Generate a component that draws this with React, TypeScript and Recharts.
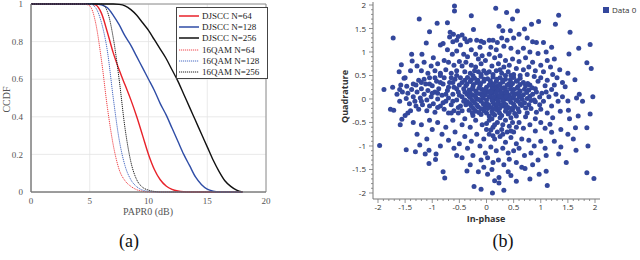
import React from "react";
import { LineChart, Line, XAxis, YAxis, CartesianGrid, ReferenceArea, ScatterChart, Scatter } from "recharts";

// ---- (a) CCDF of PAPR ----
const papr = [0, 4, 4.5, 5, 5.5, 6, 6.5, 7, 7.5, 8, 8.5, 9, 9.5, 10, 10.5, 11, 11.5, 12, 12.5, 13, 13.5, 14, 14.5, 15, 15.5, 16, 16.5, 17, 17.5, 18];
const djscc64 = [1, 1, 1, 1, 0.995, 0.95, 0.85, 0.74, 0.65, 0.57, 0.49, 0.4, 0.3, 0.2, 0.12, 0.065, 0.032, 0.014, 0.005, 0.001, 0, 0, 0, 0, 0, 0, 0, 0, 0, 0];
const djscc128 = [1, 1, 1, 1, 1, 0.995, 0.98, 0.94, 0.89, 0.83, 0.78, 0.72, 0.66, 0.6, 0.54, 0.47, 0.41, 0.34, 0.27, 0.2, 0.14, 0.08, 0.04, 0.015, 0.004, 0, 0, 0, 0, 0];
const djscc256 = [1, 1, 1, 1, 1, 1, 1, 1, 0.998, 0.99, 0.97, 0.94, 0.9, 0.86, 0.81, 0.76, 0.71, 0.65, 0.59, 0.52, 0.45, 0.38, 0.31, 0.24, 0.17, 0.11, 0.06, 0.03, 0.01, 0];
const qam64 = [1, 1, 1, 0.99, 0.9, 0.7, 0.45, 0.25, 0.12, 0.06, 0.03, 0.012, 0.004, 0, 0, 0, 0, 0, 0, 0, 0, 0, 0, 0, 0, 0, 0, 0, 0, 0];
const qam128 = [1, 1, 1, 1, 0.98, 0.9, 0.75, 0.5, 0.28, 0.14, 0.065, 0.028, 0.01, 0.003, 0, 0, 0, 0, 0, 0, 0, 0, 0, 0, 0, 0, 0, 0, 0, 0];
const qam256 = [1, 1, 1, 1, 1, 1, 0.96, 0.82, 0.6, 0.34, 0.16, 0.065, 0.025, 0.01, 0.003, 0, 0, 0, 0, 0, 0, 0, 0, 0, 0, 0, 0, 0, 0, 0];
const paprTicks = [0, 5, 10, 15, 20];
const ccdfTicks = [0, 0.2, 0.4, 0.6, 0.8, 1];

const ccdfData = papr.map((x, i) => ({
  x,
  djscc64: djscc64[i],
  djscc128: djscc128[i],
  djscc256: djscc256[i],
  qam64: qam64[i],
  qam128: qam128[i],
  qam256: qam256[i],
}));

const seriesDefs = [
  { key: "djscc64", name: "DJSCC N=64", color: "#e8222a", dotted: false },
  { key: "djscc128", name: "DJSCC N=128", color: "#2f4da6", dotted: false },
  { key: "djscc256", name: "DJSCC N=256", color: "#111111", dotted: false },
  { key: "qam64", name: "16QAM N=64", color: "#f0474c", dotted: true },
  { key: "qam128", name: "16QAM N=128", color: "#4a6cc4", dotted: true },
  { key: "qam256", name: "16QAM N=256", color: "#222222", dotted: true },
];

// ---- (b) constellation ----
const iqMajorTicks = [-2, -1.5, -1, -0.5, 0, 0.5, 1, 1.5, 2];

const iqUpperLeft: [number, number][] = [
  [-1.72, 1.3], [-1.24, 1.7], [-0.91, 1.61], [-0.72, 1.62], [-0.59, 1.98], [-0.59, 1.87], [-0.28, 1.77], [-0.24, 1.48],
  [-1.05, 1.43], [-1.11, 1.19], [-0.8, 1.18], [-1.38, 0.95], [-1.37, 0.81], [-1.19, 0.95], [-1.57, 0.73], [-1.61, 0.58],
  [-0.67, 1.42], [-0.61, 1.38], [-0.68, 1.32], [-0.52, 1.33], [-0.45, 1.36], [-0.4, 1.28], [-0.55, 1.25], [-0.62, 1.22],
  [-0.36, 1.22], [-0.3, 1.25], [-0.18, 1.25], [-0.1, 1.23], [-0.48, 1.15], [-0.72, 1.05], [-0.85, 1.15], [-0.63, 0.95],
  [-0.55, 1.02], [-0.42, 0.95], [-0.35, 0.9], [-0.28, 1.05], [-0.2, 0.95], [-0.12, 1.1], [-0.05, 1.2], [-0.08, 0.92],
  [-0.15, 0.85], [-0.98, 0.88], [-0.9, 0.75], [-1.02, 0.7], [-1.15, 0.78], [-1.28, 0.7], [-0.78, 0.82], [-0.7, 0.78],
  [-0.6, 0.72], [-0.5, 0.8], [-0.45, 0.7], [-0.38, 0.78], [-0.28, 0.72], [-0.2, 0.68], [-0.1, 0.75], [-0.02, 0.82],
  [-1.4, 0.6], [-1.2, 0.6], [-1.08, 0.55], [-0.95, 0.6], [-0.85, 0.55], [-0.75, 0.62], [-0.65, 0.55], [-0.55, 0.6],
  [-0.4, 0.58], [-0.3, 0.55], [-0.15, 0.58], [-0.05, 0.6], [-1.5, 0.45], [-1.58, 0.3],
];

const iqUpperRight: [number, number][] = [
  [0.17, 1.93], [0.37, 1.84], [0.57, 1.87], [0.48, 1.7], [0.23, 1.55], [0.3, 1.45], [0.44, 1.45], [0.7, 1.49],
  [0.83, 1.59], [0.96, 1.65], [1.27, 1.59], [1.33, 1.78], [1.54, 1.42], [1.7, 1.08], [1.91, 1.16], [1.52, 0.96],
  [1.85, 0.77], [1.93, 0.65], [0.05, 1.25], [0.12, 1.25], [0.2, 1.2], [0.28, 1.3], [0.38, 1.25], [0.5, 1.3],
  [0.6, 1.38], [0.75, 1.3], [0.85, 1.22], [0.92, 1.2], [1.05, 1.2], [0.08, 1.1], [0.18, 1.05], [0.32, 1.12],
  [0.45, 1.08], [0.58, 1.0], [0.68, 1.08], [0.8, 1.0], [0.95, 0.97], [1.1, 1.0], [1.2, 1.1], [1.25, 0.85],
  [1.12, 0.82], [1.35, 0.62], [1.3, 0.45], [1.5, 0.55], [0.05, 0.95], [0.15, 0.88], [0.25, 0.92], [0.35, 0.82],
  [0.48, 0.85], [0.6, 0.8], [0.72, 0.88], [0.85, 0.78], [1.0, 0.72], [1.18, 0.68], [0.1, 0.7], [0.22, 0.75],
  [0.32, 0.68], [0.42, 0.72], [0.55, 0.65], [0.68, 0.62], [0.78, 0.68], [0.9, 0.6], [1.05, 0.58], [1.22, 0.52],
  [0.05, 0.58], [0.18, 0.6], [0.28, 0.55], [0.4, 0.58], [0.5, 0.52], [0.62, 0.5], [0.75, 0.52], [0.88, 0.48],
  [1.0, 0.45], [1.12, 0.4], [1.45, 0.26], [1.63, 0.41], [1.4, 0.35], [1.25, 0.3],
];

const iqBand: [number, number][] = [
  [-1.89, 0.2], [-1.73, 0.25], [-1.65, 0.1], [-1.77, -0.22], [-1.71, -0.24], [-1.6, -0.05], [-1.55, 0.15], [-1.48, 0.01],
  [-1.47, 0.27], [-1.52, 0.44], [-1.45, 0.12], [-1.42, -0.1], [-1.38, 0.2], [-1.35, 0.05], [-1.3, 0.3], [-1.32, -0.05],
  [-1.28, 0.15], [-1.25, 0.4], [-1.22, 0.02], [-1.2, 0.22], [-1.18, -0.12], [-1.15, 0.1], [-1.12, 0.32], [-1.1, -0.02],
  [-1.08, 0.18], [-1.05, 0.45], [-1.02, 0.05], [-1.0, 0.28], [-0.98, -0.1], [-0.95, 0.15], [-0.92, 0.38], [-0.9, 0.0],
  [-0.88, 0.22], [-0.85, -0.15], [-0.82, 0.08], [-0.8, 0.32], [-0.78, 0.45], [-0.75, -0.05], [-0.72, 0.18], [-0.7, 0.02],
  [-0.68, 0.35], [-0.65, -0.12], [-0.62, 0.1], [-0.6, 0.25], [-0.58, 0.42], [-0.55, -0.02], [-0.52, 0.15], [-0.5, 0.3],
  [-0.48, -0.15], [-0.45, 0.05], [-0.42, 0.22], [-0.4, 0.4], [-1.45, -0.3], [-1.5, -0.35], [-1.4, -0.25], [-1.25, -0.22],
  [-1.1, -0.25], [-0.95, -0.28], [-0.78, -0.22], [-0.7, -0.3], [-0.6, -0.25], [-0.52, -0.3],
  [-1.35, 0.32], [-1.2, 0.35], [-1.05, 0.32], [-0.9, 0.12], [-0.85, 0.35], [-0.75, 0.1], [-0.7, 0.25], [-0.62, 0.35],
  [-0.55, 0.22], [-0.5, 0.08], [-0.45, 0.35], [-0.42, -0.05], [-1.0, 0.12], [-1.15, 0.42], [-0.95, 0.45], [-0.65, 0.45],
  [-0.55, 0.5], [-0.48, 0.45], [-1.2, -0.05], [-1.05, -0.15], [-0.9, -0.18], [-0.8, -0.08], [-0.62, -0.05], [-0.52, -0.18],
  [-0.45, -0.25], [-0.38, -0.12], [-0.4, 0.15], [-0.85, 0.5], [-1.3, -0.15], [-1.6, 0.2],
  [0.8, 0.3], [0.9, 0.22], [0.95, 0.38], [1.02, 0.12], [1.08, 0.28], [1.15, 0.05], [1.2, 0.2], [0.88, -0.02],
  [0.98, -0.12], [1.05, -0.05], [1.1, 0.15], [1.28, 0.1], [1.32, -0.05], [1.36, -0.26], [1.5, -0.04], [1.51, -0.24],
  [1.53, -0.42], [1.66, 0.02], [1.71, 0.1], [1.77, -0.05], [1.69, -0.36], [1.64, -0.61], [1.96, 0.05], [1.91, -0.32],
  [1.85, -0.61], [0.82, -0.2], [0.92, -0.28], [1.0, -0.22], [1.12, -0.3], [1.2, -0.15], [0.75, -0.3], [1.4, 0.05],
  [1.22, -0.4],
];

const iqCore: [number, number][] = [
  [-0.35, 0.46], [-0.22, 0.44], [-0.1, 0.48], [0.02, 0.43], [0.12, 0.47], [0.25, 0.45], [0.35, 0.42], [0.5, 0.46], [0.62, 0.44],
  [-0.3, 0.37], [-0.18, 0.35], [-0.05, 0.38], [0.08, 0.34], [0.18, 0.37], [0.3, 0.36], [0.42, 0.33], [0.55, 0.38], [0.68, 0.35],
  [-0.38, 0.28], [-0.25, 0.26], [-0.12, 0.29], [0.0, 0.25], [0.1, 0.28], [0.2, 0.27], [0.32, 0.24], [0.45, 0.29], [0.58, 0.26], [0.72, 0.28],
  [-0.32, 0.19], [-0.2, 0.17], [-0.08, 0.2], [0.05, 0.16], [0.15, 0.19], [0.25, 0.18], [0.38, 0.15], [0.5, 0.2], [0.62, 0.17], [0.78, 0.19],
  [-0.36, 0.1], [-0.25, 0.08], [-0.12, 0.11], [-0.02, 0.09], [0.1, 0.12], [0.2, 0.07], [0.3, 0.1], [0.42, 0.08], [0.55, 0.11], [0.68, 0.09], [0.85, 0.1],
  [-0.3, 0.03], [-0.18, 0.0], [-0.06, 0.02], [0.05, 0.04], [0.15, 0.01], [0.25, 0.03], [0.35, 0.0], [0.48, 0.02], [0.6, 0.04], [0.75, 0.01],
  [-0.35, -0.06], [-0.22, -0.08], [-0.1, -0.05], [0.0, -0.09], [0.12, -0.07], [0.22, -0.06], [0.32, -0.09], [0.45, -0.07], [0.58, -0.05], [0.7, -0.08], [0.9, -0.06],
  [-0.28, -0.15], [-0.15, -0.17], [-0.02, -0.14], [0.08, -0.18], [0.18, -0.16], [0.3, -0.15], [0.4, -0.18], [0.52, -0.16], [0.65, -0.14],
  [-0.32, -0.24], [-0.2, -0.26], [-0.05, -0.25], [0.1, -0.27], [0.2, -0.24], [0.35, -0.26], [0.48, -0.23], [0.6, -0.27],
  [-0.1, -0.33], [0.05, -0.36], [0.15, -0.34], [0.28, -0.35], [0.4, -0.32], [0.55, -0.36],
  [0.05, 0.3], [0.15, 0.24], [0.25, 0.32], [0.35, 0.22], [0.06, 0.06], [0.18, 0.13], [0.28, 0.05], [0.38, 0.3],
  [0.1, -0.02], [0.22, 0.2], [0.32, 0.14], [0.02, 0.15], [0.4, 0.05], [0.27, -0.12], [0.14, -0.11], [-0.05, -0.2],
  [-0.28, 0.41], [-0.16, 0.4], [-0.04, 0.42], [0.07, 0.39], [0.19, 0.42], [0.3, 0.4], [0.44, 0.41], [0.57, 0.39],
  [-0.36, 0.32], [-0.24, 0.31], [-0.11, 0.33], [0.13, 0.32], [0.24, 0.3], [0.48, 0.33], [0.62, 0.31], [0.76, 0.33],
  [-0.26, 0.22], [-0.14, 0.23], [-0.02, 0.21], [0.1, 0.22], [0.28, 0.23], [0.44, 0.22], [0.56, 0.23], [0.7, 0.21], [0.84, 0.24],
  [-0.3, 0.14], [-0.18, 0.13], [-0.05, 0.15], [0.08, 0.15], [0.26, 0.13], [0.36, 0.12], [0.48, 0.14], [0.6, 0.13], [0.74, 0.14], [0.92, 0.15],
  [-0.32, 0.06], [-0.2, 0.05], [-0.08, 0.07], [0.14, 0.05], [0.24, 0.06], [0.36, 0.05], [0.5, 0.06], [0.64, 0.05], [0.8, 0.06], [0.98, 0.04],
  [-0.4, -0.02], [-0.26, -0.03], [-0.14, -0.01], [0.0, -0.02], [0.2, -0.02], [0.3, -0.03], [0.42, -0.01], [0.54, -0.02], [0.66, -0.01], [0.82, -0.03],
  [-0.3, -0.11], [-0.18, -0.12], [-0.06, -0.1], [0.04, -0.12], [0.2, -0.11], [0.36, -0.12], [0.5, -0.11], [0.62, -0.1], [0.78, -0.12],
  [-0.24, -0.2], [-0.1, -0.21], [0.02, -0.2], [0.13, -0.21], [0.24, -0.2], [0.36, -0.21], [0.46, -0.2], [0.58, -0.21], [0.72, -0.19],
  [-0.26, -0.3], [-0.14, -0.29], [0.0, -0.3], [0.12, -0.31], [0.24, -0.3], [0.42, -0.29], [0.52, -0.31],
  [-0.25, 0.5], [-0.1, 0.52], [0.12, 0.52], [0.35, 0.5], [-0.22, 0.6], [0.0, 0.55], [0.25, 0.62], [0.45, 0.5],
];

const iqLowerLeft: [number, number][] = [
  [-1.97, -0.99], [-1.59, -0.55], [-1.56, -0.43], [-1.48, -1.08], [-1.28, -0.75], [-1.31, -1.12], [-1.23, -0.98], [-1.13, -1.17],
  [-1.06, -1.37], [-1.06, -1.09], [-0.93, -1.17], [-0.94, -1.29], [-0.8, -1.55], [-0.77, -1.68], [-0.36, -1.53], [-0.23, -1.86],
  [-0.1, -1.92], [-1.2, -0.55], [-1.05, -0.45], [-1.0, -0.65], [-0.9, -0.5], [-0.82, -0.75], [-0.75, -0.6], [-0.7, -0.88],
  [-0.62, -0.45], [-0.58, -0.7], [-0.5, -0.95], [-0.45, -0.55], [-0.4, -0.8], [-0.35, -1.05], [-0.3, -0.6], [-0.28, -0.9],
  [-0.25, -1.2], [-0.2, -0.45], [-0.18, -0.75], [-0.12, -1.0], [-0.1, -1.3], [-0.08, -0.55], [-0.05, -0.85], [-0.02, -1.15],
  [-0.6, -1.05], [-0.55, -1.2], [-0.45, -1.25], [-0.15, -1.55], [-0.05, -1.45], [-0.3, -1.4], [-0.65, -0.3], [-1.35, -0.5],
  [-1.1, -0.85], [-0.85, -1.0], [-0.4, -0.42], [-0.25, -0.35],
];

const iqLowerRight: [number, number][] = [
  [0.11, -2.0], [0.32, -1.94], [0.15, -1.74], [0.23, -1.67], [0.23, -1.79], [0.45, -1.63], [0.71, -1.48], [0.97, -1.6],
  [1.1, -1.54], [1.12, -1.84], [1.33, -1.17], [1.37, -1.02], [1.47, -1.35], [1.65, -1.09], [1.85, -1.57], [1.98, -1.69],
  [1.87, -1.0], [1.17, -0.54], [1.2, -0.71], [1.37, -0.65], [0.05, -0.45], [0.12, -0.6], [0.2, -0.5], [0.28, -0.65],
  [0.35, -0.45], [0.42, -0.58], [0.5, -0.7], [0.6, -0.5], [0.68, -0.62], [0.8, -0.55], [0.9, -0.68], [1.0, -0.5],
  [1.08, -0.62], [0.05, -0.75], [0.15, -0.85], [0.25, -0.8], [0.35, -0.92], [0.45, -0.82], [0.55, -0.95], [0.65, -0.85],
  [0.78, -0.88], [0.88, -1.0], [1.0, -0.9], [1.08, -1.05], [1.1, -1.2], [0.08, -1.02], [0.18, -1.1], [0.3, -1.05],
  [0.4, -1.15], [0.5, -1.1], [0.6, -1.05], [0.7, -1.2], [0.82, -1.15], [0.95, -1.3], [0.02, -1.25], [0.12, -1.35],
  [0.22, -1.3], [0.32, -1.4], [0.42, -1.28], [0.55, -1.35], [0.65, -1.45], [0.1, -1.5], [0.02, -1.6], [0.85, -1.4],
  [0.4, -1.55], [0.55, -1.75], [0.8, -1.7], [1.25, -0.9], [1.5, -0.75], [1.6, -0.85], [0.72, -0.38], [0.9, -0.42],
  [0.1, -0.42], [0.25, -0.4], [0.45, -0.4], [0.0, -0.52], [0.15, -0.55], [0.3, -0.55], [0.48, -0.5], [0.08, -0.66],
  [0.2, -0.7], [0.38, -0.7], [0.55, -0.6], [0.0, -0.65], [0.3, -0.75], [0.45, -0.68], [0.12, -0.78],
];

const iqPoints = [...iqUpperLeft, ...iqUpperRight, ...iqBand, ...iqCore, ...iqLowerLeft, ...iqLowerRight].map(([x, y]) => ({ x, y }));

// minor ticks every 0.1 between the labelled ones
const iqAllTicks = iqMajorTicks.flatMap((t, i) =>
  i === iqMajorTicks.length - 1 ? [t] : [0, 1, 2, 3, 4].map((k) => Math.round((t + k * 0.1) * 10) / 10)
);
const isMajor = (v: number) => Math.abs(v * 2 - Math.round(v * 2)) < 1e-6;

const serif = "'Liberation Serif', 'Times New Roman', serif";
const sans = "'Open Sans', 'DejaVu Sans', sans-serif";
const dotColor = "#33479c";

function IqTickX(props: any) {
  const { x, y, payload } = props;
  const major = isMajor(payload.value);
  return (
    <g>
      <line x1={x} y1={y} x2={x} y2={y + (major ? 4 : 2)} stroke="#777" strokeWidth={0.8} />
      {major && (
        <text x={x} y={y + 11} textAnchor="middle" fontSize={8} fill="#333" fontFamily={sans}>
          {payload.value}
        </text>
      )}
    </g>
  );
}

function IqTickY(props: any) {
  const { x, y, payload } = props;
  const major = isMajor(payload.value);
  return (
    <g>
      <line x1={x} y1={y} x2={x - (major ? 4 : 2)} y2={y} stroke="#777" strokeWidth={0.8} />
      {major && (
        <text x={x - 7} y={y + 3} textAnchor="end" fontSize={8} fill="#333" fontFamily={sans}>
          {payload.value}
        </text>
      )}
    </g>
  );
}

function CcdfLegend() {
  return (
    <div style={{
      position: "absolute",
      left: 176,
      top: 7,
      width: 92,
      height: 72,
      border: "1px solid #444",
      background: "#fff",
      boxSizing: "border-box",
      padding: "2px 0 0 2px",
    }}>
      {seriesDefs.map((s) => (
        <div key={s.key} style={{ display: "flex", alignItems: "center", height: 11.3 }}>
          <svg width={21} height={4} style={{ marginRight: 2 }}>
            <line x1={0} y1={2} x2={20} y2={2} stroke={s.color} strokeWidth={s.dotted ? 1 : 1.5}
              strokeDasharray={s.dotted ? "1.2 0.8" : undefined} />
          </svg>
          <span style={{ fontFamily: serif, fontSize: 9, color: "#222", whiteSpace: "nowrap" }}>{s.name}</span>
        </div>
      ))}
    </div>
  );
}

export default function App() {
  return (
    <div style={{ position: "absolute", left: 0, top: 0, width: 640, height: 260, background: "#fff", overflow: "hidden" }}>
      {/* (a) */}
      <div style={{ position: "absolute", left: 0, top: 0 }}>
        <LineChart width={280} height={225} data={ccdfData} margin={{ top: 4, right: 14, left: 0, bottom: 0 }}>
          <CartesianGrid stroke="#e4e4e4" strokeWidth={0.8} />
          <XAxis
            type="number"
            dataKey="x"
            domain={[0, 20]}
            ticks={paprTicks}
            interval={0}
            height={33}
            tickSize={4}
            tickLine={false}
            axisLine={{ stroke: "#777" }}
            tick={{ fontSize: 9, fill: "#555", fontFamily: serif }}
          />
          <YAxis
            type="number"
            domain={[0, 1]}
            ticks={ccdfTicks}
            interval={0}
            width={31}
            tickLine={false}
            axisLine={{ stroke: "#777" }}
            tick={{ fontSize: 9, fill: "#555", fontFamily: serif }}
          />
          <ReferenceArea x1={0} x2={20} y1={0} y2={1} fill="none" stroke="#777" strokeWidth={0.8} ifOverflow="visible" />
          {seriesDefs.map((s) => (
            <Line
              key={s.key}
              type="monotone"
              dataKey={s.key}
              name={s.name}
              stroke={s.color}
              strokeWidth={s.dotted ? 1 : 1.4}
              strokeDasharray={s.dotted ? "1.2 0.8" : undefined}
              dot={false}
              isAnimationActive={false}
            />
          ))}
        </LineChart>
        <CcdfLegend />
        <div style={{ position: "absolute", left: 0, top: 100, width: 12, textAlign: "center" }}>
          <div style={{ transform: "translate(-14px, -6px) rotate(-90deg)", width: 40, fontFamily: serif, fontSize: 10, color: "#555" }}>CCDF</div>
        </div>
        <div style={{ position: "absolute", left: 98, top: 206, width: 100, textAlign: "center", fontFamily: serif, fontSize: 10, color: "#555" }}>
          PAPR0 (dB)
        </div>
      </div>

      {/* (b) */}
      <div style={{ position: "absolute", left: 330, top: 0 }}>
        <ScatterChart width={300} height={225} margin={{ top: 2, right: 30, left: 0, bottom: 0 }}>
          <XAxis
            type="number"
            dataKey="x"
            domain={[-2.092, 2.092]}
            ticks={iqAllTicks}
            interval={0}
            height={26}
            tickSize={0}
            tickMargin={0}
            tickLine={false}
            axisLine={{ stroke: "#777" }}
            tick={IqTickX}
            allowDataOverflow
          />
          <YAxis
            type="number"
            dataKey="y"
            domain={[-2.128, 2.064]}
            ticks={iqAllTicks}
            interval={0}
            width={43}
            tickSize={0}
            tickMargin={0}
            tickLine={false}
            axisLine={{ stroke: "#777" }}
            tick={IqTickY}
            allowDataOverflow
          />
          <Scatter
            data={iqPoints}
            fill={dotColor}
            isAnimationActive={false}
            shape={(p: any) => <circle cx={p.cx} cy={p.cy} r={2.5} fill={dotColor} />}
          />
        </ScatterChart>
        <div style={{ position: "absolute", left: 0, top: 97, width: 20 }}>
          <div style={{ transform: "translate(-16px, -7px) rotate(-90deg)", width: 60, textAlign: "center", fontFamily: sans, fontSize: 9, fontWeight: 700, color: "#333" }}>Quadrature</div>
        </div>
        <div style={{ position: "absolute", left: 126, top: 214, width: 60, lineHeight: "10px", textAlign: "center", fontFamily: sans, fontSize: 9, fontWeight: 700, color: "#333" }}>
          In-phase
        </div>
        <div style={{ position: "absolute", left: 273, top: 4, display: "flex", alignItems: "center", whiteSpace: "nowrap" }}>
          <div style={{ width: 6, height: 6, background: dotColor, marginRight: 3 }} />
          <span style={{ fontFamily: sans, fontSize: 8, color: "#333" }}>Data 0</span>
        </div>
      </div>

      <div style={{ position: "absolute", left: 109, top: 231, width: 40, textAlign: "center", fontFamily: serif, fontSize: 18, color: "#111" }}>(a)</div>
      <div style={{ position: "absolute", left: 483, top: 231, width: 40, textAlign: "center", fontFamily: serif, fontSize: 18, color: "#111" }}>(b)</div>
    </div>
  );
}
